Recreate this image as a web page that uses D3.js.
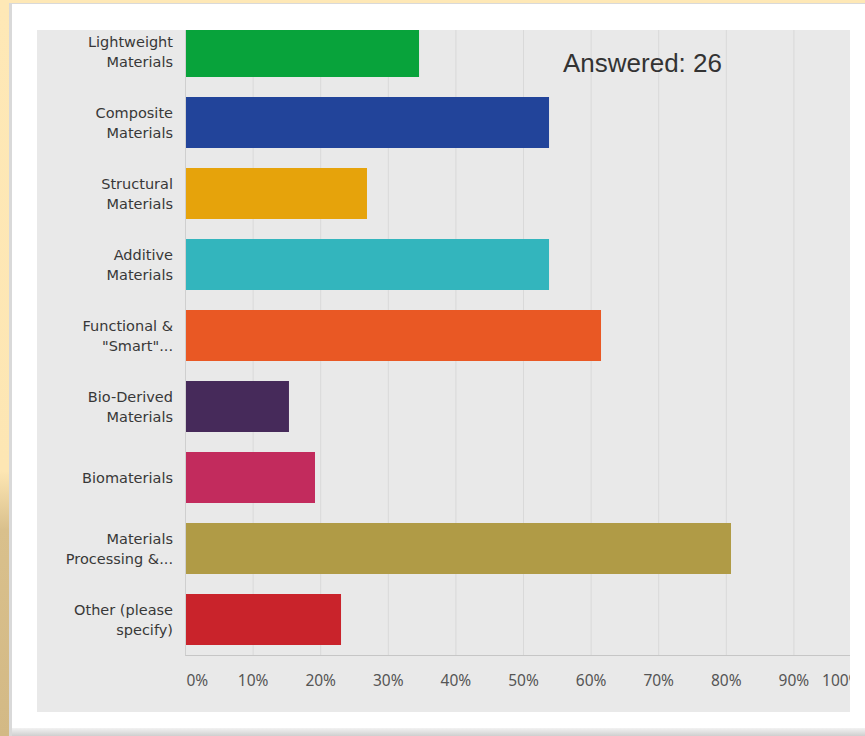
<!DOCTYPE html>
<html>
<head>
<meta charset="utf-8">
<script src="https://cdn.jsdelivr.net/npm/d3@7"></script>
<style>
  html, body { margin: 0; padding: 0; background: #fee8b6; }
  svg { display: block; }
</style>
</head>
<body>
<svg id="chart" width="865" height="736"></svg>
<script>
// Survey question: share of respondents choosing each material area
const categories = [
  "Lightweight Materials",
  "Composite Materials",
  "Structural Materials",
  "Additive Materials",
  "Functional & \"Smart\"...",
  "Bio-Derived Materials",
  "Biomaterials",
  "Materials Processing &...",
  "Other (please specify)"
];
// Wrapped label lines, as shown beside each bar
const labelLines = [
  ["Lightweight", "Materials"],
  ["Composite", "Materials"],
  ["Structural", "Materials"],
  ["Additive", "Materials"],
  ["Functional &", "\"Smart\"..."],
  ["Bio-Derived", "Materials"],
  ["Biomaterials"],
  ["Materials", "Processing &..."],
  ["Other (please", "specify)"]
];
// Percent of the 26 respondents
const values = [34.62, 53.85, 26.92, 53.85, 61.54, 15.38, 19.23, 80.77, 23.08];
const barColors = ["#08a33b", "#22449a", "#e6a30b", "#33b5bd", "#e95824",
                   "#462a5a", "#c22b5d", "#b09b46", "#c9232b"];
const tickValues = [0, 10, 20, 30, 40, 50, 60, 70, 80, 90, 100];
const tickLabels = ["0%", "10%", "20%", "30%", "40%", "50%", "60%", "70%", "80%", "90%", "100%"];
const answeredText = "Answered: 26";

const svg = d3.select("#chart");
const defs = svg.append("defs");

// Page backdrop: warm frame, white card, grey chart panel
const leftStrip = defs.append("linearGradient").attr("id", "leftStrip")
  .attr("x1", 0).attr("y1", 0).attr("x2", 0).attr("y2", 1);
leftStrip.append("stop").attr("offset", "0%").attr("stop-color", "#fee8b6");
leftStrip.append("stop").attr("offset", "64%").attr("stop-color", "#fde6b3");
leftStrip.append("stop").attr("offset", "72%").attr("stop-color", "#d9c08c");
leftStrip.append("stop").attr("offset", "100%").attr("stop-color", "#d3b985");
svg.append("rect").attr("x", 0).attr("y", 0).attr("width", 865).attr("height", 736).attr("fill", "#fee8b6");
svg.append("rect").attr("x", 0).attr("y", 0).attr("width", 10).attr("height", 736).attr("fill", "url(#leftStrip)");

const bottomShade = defs.append("linearGradient").attr("id", "bottomShade")
  .attr("x1", 0).attr("y1", 0).attr("x2", 0).attr("y2", 1);
bottomShade.append("stop").attr("offset", "0%").attr("stop-color", "#f2f2f2");
bottomShade.append("stop").attr("offset", "100%").attr("stop-color", "#cfcfcf");

svg.append("rect").attr("x", 9).attr("y", 3).attr("width", 856).attr("height", 733).attr("fill", "#d9d9d9");
svg.append("rect").attr("x", 12).attr("y", 4).attr("width", 853).attr("height", 724).attr("fill", "#ffffff");
svg.append("rect").attr("x", 12).attr("y", 728).attr("width", 853).attr("height", 8).attr("fill", "url(#bottomShade)");

const panel = { x: 37, y: 30, w: 813, h: 682 };
svg.append("rect").attr("x", panel.x).attr("y", panel.y).attr("width", panel.w).attr("height", panel.h)
  .attr("fill", "#e9e9e9");

defs.append("clipPath").attr("id", "panelClip").append("rect")
  .attr("x", panel.x).attr("y", panel.y).attr("width", panel.w).attr("height", panel.h);

const g = svg.append("g").attr("clip-path", "url(#panelClip)");

// Scales
const x = d3.scaleLinear().domain([0, 100]).range([185, 861]);
const y = d3.scaleBand().domain(categories).range([16, 655])
  .paddingInner(20 / 71).paddingOuter(10 / 71);
const axisY = 655;

// Vertical gridlines
g.append("g").selectAll("line").data(tickValues.slice(1)).join("line")
  .attr("x1", d => x(d) + 0.5).attr("x2", d => x(d) + 0.5)
  .attr("y1", 0).attr("y2", axisY)
  .attr("stroke", "#d9d9d9").attr("stroke-width", 1);

// Bars
g.append("g").selectAll("rect").data(categories).join("rect")
  .attr("x", x(0))
  .attr("y", d => y(d))
  .attr("width", (d, i) => x(values[i]) - x(0))
  .attr("height", y.bandwidth())
  .attr("fill", (d, i) => barColors[i]);

// Axis lines
g.append("line").attr("x1", x(0)).attr("x2", 861).attr("y1", axisY + 0.5).attr("y2", axisY + 0.5)
  .attr("stroke", "#c6c6c6").attr("stroke-width", 1.2);
g.append("line").attr("x1", x(0) + 0.5).attr("x2", x(0) + 0.5).attr("y1", 0).attr("y2", axisY + 0.5)
  .attr("stroke", "#cfcfcf").attr("stroke-width", 1);

// Bottom axis with percent labels
const xAxis = d3.axisBottom(x).tickValues(tickValues)
  .tickFormat((d, i) => tickLabels[i]).tickSize(0).tickPadding(0);
const axisG = g.append("g").attr("transform", `translate(0, ${axisY + 31})`).call(xAxis);
axisG.select(".domain").remove();
axisG.selectAll("text")
  .attr("dy", 0)
  .attr("font-family", "'Noto Sans', 'Open Sans', sans-serif")
  .attr("font-size", 15.5)
  .attr("fill", "#555555")
  .attr("text-anchor", (d, i) => i === 0 ? "start" : (i === tickValues.length - 1 ? "end" : "middle"))
  .attr("x", (d, i) => i === 0 ? 1 : 0);

// Category labels
const labels = g.append("g").selectAll("text").data(categories).join("text")
  .attr("text-anchor", "end")
  .attr("font-family", "'DejaVu Sans', 'Noto Sans', sans-serif")
  .attr("font-size", 14.5)
  .attr("fill", "#383838");
labels.each(function (d, i) {
  const lines = labelLines[i];
  const cy = y(d) + y.bandwidth() / 2;
  const sel = d3.select(this);
  lines.forEach((ln, k) => {
    const offset = lines.length === 1 ? 5 : (k === 0 ? -5 : 15);
    sel.append("tspan").attr("x", 173).attr("y", cy + offset).text(ln);
  });
});

// Respondent count
g.append("text").attr("x", 563).attr("y", 72)
  .attr("font-family", "'Liberation Sans', Arial, sans-serif")
  .attr("font-size", 26)
  .attr("fill", "#333333")
  .text(answeredText);
</script>
</body>
</html>
